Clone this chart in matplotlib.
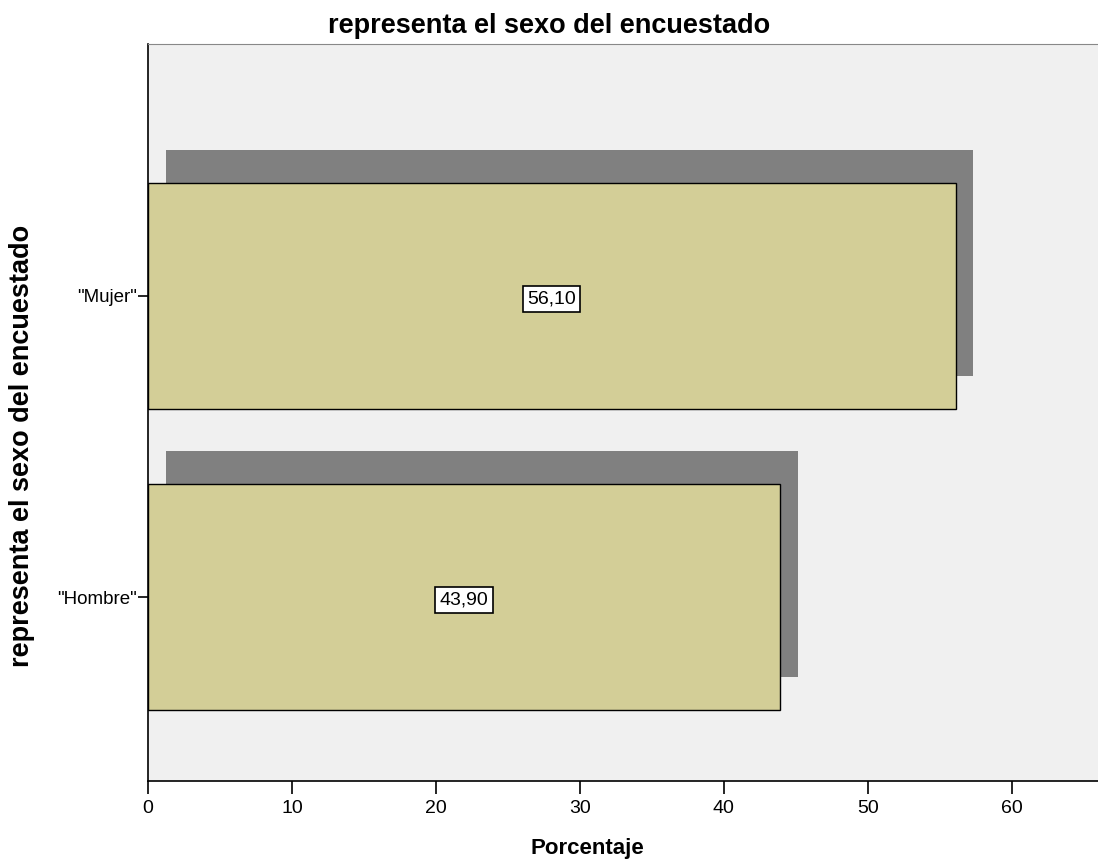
import numpy as np
import matplotlib.pyplot as plt

plt.rcParams['font.family'] = ['Liberation Sans', 'DejaVu Sans']

categorias = ['"Hombre"', '"Mujer"']
porcentajes = [43.90, 56.10]
etiquetas = ['43,90', '56,10']

fig = plt.figure(figsize=(10.98, 8.67), dpi=100)
ax = fig.add_axes([0.1348, 0.0992, 0.8652, 0.8501])
ax.set_facecolor('#f0f0f0')

pos = np.arange(len(categorias))
alto = 0.75

# sombra desplazada (estilo SPSS)
ax.barh(pos + 0.11, porcentajes, left=1.25, height=alto, color='#808080', zorder=1)
ax.barh(pos, porcentajes, height=alto, color='#d3ce97', edgecolor='black', linewidth=1, zorder=2)

for p, v, t in zip(pos, porcentajes, etiquetas):
    ax.text(v / 2, p - 0.01, t, ha='center', va='center', fontsize=14, zorder=3,
            bbox=dict(boxstyle='square,pad=0.22', fc='white', ec='black', lw=1.2))

ax.set_xlim(0, 66)
ax.set_ylim(-0.611, 1.837)
ax.set_xticks(np.arange(0, 61, 10))
ax.set_yticks(pos)
ax.set_yticklabels(categorias)
ax.tick_params(axis='x', length=9, width=1.2, labelsize=14, pad=5)
ax.tick_params(axis='y', length=7, width=1.2, labelsize=13.5, pad=1)

ax.spines['right'].set_visible(False)
ax.spines['top'].set_color('#888888')
ax.spines['left'].set_linewidth(1.2)
ax.spines['bottom'].set_linewidth(1.2)

ax.set_xlabel('Porcentaje', fontsize=16, fontweight='bold')
ax.xaxis.set_label_coords(0.463, -0.077)
ax.set_ylabel('representa el sexo del encuestado', fontsize=19.5, fontweight='bold')
ax.yaxis.set_label_coords(-0.119, 0.455)
ax.set_title('representa el sexo del encuestado', fontsize=19.5, fontweight='bold',
             x=0.422, pad=8)

fig.savefig('out.png', dpi=100)
